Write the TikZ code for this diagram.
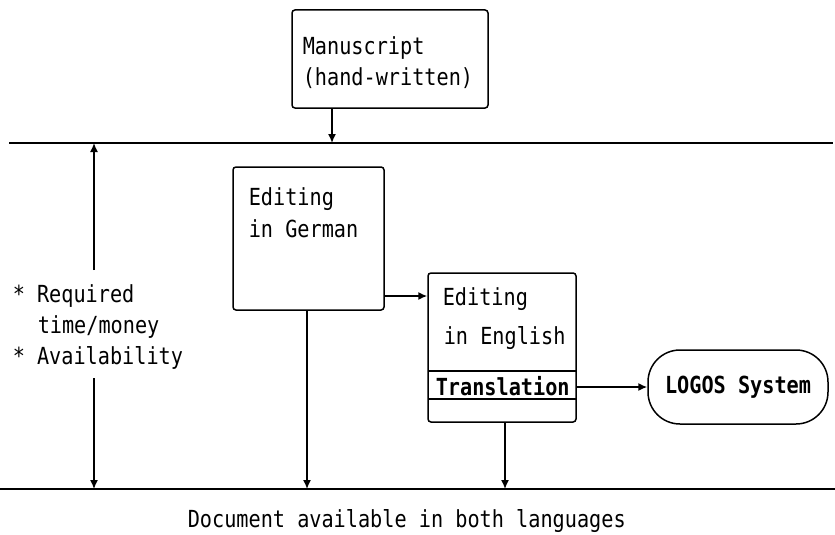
\documentclass[tikz,border=0pt]{standalone}
\usepackage{fontspec}
\newfontfamily\dfont[FakeStretch=0.86]{DejaVu Sans Mono}
\usetikzlibrary{arrows.meta}
\begin{document}
\begin{tikzpicture}[x=1pt,y=-1pt,
  font=\dfont\fontsize{23.5}{31}\selectfont,
  line width=1.5pt,
  >={Latex[length=9pt,width=8pt]},
  box/.style={draw, rounded corners=3pt, inner sep=0pt},
  lbl/.style={anchor=base west, inner sep=0pt},
  boldtxt/.style={font=\dfont\bfseries\fontsize{23.5}{31}\selectfont},
  flow/.style={->},
  rule/.style={line width=1.8pt}]
\useasboundingbox (0,0) rectangle (835,535);

% horizontal rules
\coordinate (tl) at (9,143);
\coordinate (tr) at (833,143);
\coordinate (bl) at (0,489);
\coordinate (br) at (835,489);
\draw[rule] (tl) -- (tr);
\draw[rule] (bl) -- (br);

% manuscript
\node[box, minimum width=196pt, minimum height=98pt] (ms) at (390,59) {};
\node[lbl] (mst1) at (302,55) {Manuscript};
\node[lbl] (mst2) at (302,85) {(hand-written)};
\coordinate (msin) at (332,143);
\draw[flow] (ms.south -| msin) -- (msin);

% editing in German
\node[box, minimum width=151pt, minimum height=143pt] (de) at (308.5,238.5) {};
\node[lbl] (det1) at (248,205) {Editing};
\node[lbl] (det2) at (248,237) {in German};

% editing in English
\node[box, minimum width=148pt, minimum height=149pt] (en) at (502,347.5) {};
\node[lbl] (ent1) at (442,305) {Editing};
\node[lbl] (ent2) at (443,344) {in English};
\coordinate (tb1) at (428,371);
\coordinate (tb2) at (428,399);
\draw (tb1) -- (tb1 -| en.east);
\draw (tb2) -- (tb2 -| en.east);
\node[lbl, boldtxt] (tra) at (435,395) {Translation};

% German -> English
\coordinate (y296) at (0,296);
\draw[flow] (de.east |- y296) -- (en.west |- y296);

% LOGOS
\node[draw, boldtxt, rounded corners=32pt, minimum width=180pt, minimum height=74pt, inner sep=0pt] (logos) at (738,387) {LOGOS System};
\coordinate (trout) at (576,387);
\draw[flow] (trout) -- (logos.west);

% down arrows to bottom rule
\coordinate (gdown) at (307,489);
\draw[flow] (de.south -| gdown) -- (gdown);
\coordinate (edown) at (505,489);
\draw[flow] (en.south -| edown) -- (edown);

% left double arrow and text
\coordinate (la1) at (94,270);
\coordinate (la2) at (94,143);
\coordinate (la3) at (94,378);
\coordinate (la4) at (94,489);
\draw[flow] (la1) -- (la2);
\draw[flow] (la3) -- (la4);
\node[lbl] (lt1) at (12,302) {* Required};
\node[lbl] (lt2) at (37,333) {time/money};
\node[lbl] (lt3) at (12,364) {* Availability};

% bottom text
\node[lbl] (bt) at (187,527) {Document available in both languages};
\end{tikzpicture}
\end{document}
